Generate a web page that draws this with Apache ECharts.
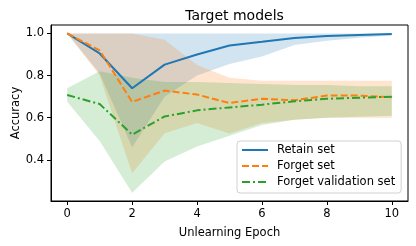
<!DOCTYPE html>
<html><head><meta charset="utf-8">
<script src="https://cdn.jsdelivr.net/npm/echarts@6/dist/echarts.min.js"></script>
<style>html,body{margin:0;padding:0;background:#fff}#c{width:416px;height:246px}</style>
</head><body><div id="c"></div>
<script>
const epochs = [0,1,2,3,4,5,6,7,8,9,10];
const retainMean  = [1.0,0.905,0.74,0.852,0.90,0.943,0.96,0.978,0.988,0.993,0.997];
const retainUpper = [1.0,1.0,1.0,1.0,1.0,1.0,1.0,1.0,1.0,1.0,1.0];
const retainLower = [1.0,0.81,0.46,0.70,0.80,0.855,0.89,0.945,0.965,0.98,0.99];
const forgetMean  = [1.0,0.92,0.675,0.729,0.71,0.67,0.69,0.683,0.705,0.705,0.697];
const forgetUpper = [1.0,1.0,1.0,0.97,0.85,0.79,0.775,0.775,0.775,0.775,0.775];
const forgetLower = [1.0,0.80,0.337,0.527,0.575,0.525,0.575,0.59,0.60,0.60,0.60];
const valMean  = [0.708,0.665,0.52,0.606,0.635,0.649,0.662,0.678,0.69,0.695,0.70];
const valUpper = [0.74,0.82,0.79,0.77,0.77,0.765,0.76,0.755,0.755,0.75,0.75];
const valLower = [0.676,0.49,0.244,0.392,0.463,0.515,0.565,0.59,0.60,0.605,0.61];
const xTicks = [0,2,4,6,8,10];
const yTicks = [0.4,0.6,0.8,1.0];
const names = ['Retain set','Forget set','Forget validation set'];
const colors = ['#1f77b4','#ff7f0e','#2ca02c'];

const pts = arr => epochs.map((e,i)=>[e,arr[i]]);

function band(lower, upper, color){
  return {
    type:'custom', silent:true, z:1,
    data:[[epochs[0], lower[0]]],
    renderItem:(params, api)=>{
      const up = epochs.map((e,i)=>api.coord([e,upper[i]]));
      const lo = epochs.map((e,i)=>api.coord([e,lower[i]])).reverse();
      return {type:'polygon', shape:{points:up.concat(lo)},
              style:{fill:color, opacity:0.2, stroke:null}};
    }
  };
}
const font = 'DejaVu Sans';
const fs = 11.5;
const chart = echarts.init(document.getElementById('c'), null, {renderer:'canvas'});
chart.setOption({
  animation:false,
  backgroundColor:'#fff',
  title:{text:'Target models', left:229.5, textAlign:'center', top:4,
    textStyle:{fontFamily:font,fontSize:14,fontWeight:'normal',color:'#000'}},
  grid:{left:51,right:8,top:25,bottom:45,outerBoundsMode:'none',containLabel:false,
    show:true,borderColor:'#000',borderWidth:1,backgroundColor:'transparent'},
  legend:{data:names, orient:'vertical', left:237, top:141, itemWidth:26, itemHeight:10, itemGap:4,
    padding:[3,6,5,4], borderColor:'#d0d0d0', borderWidth:1, borderRadius:3,
    backgroundColor:'rgba(255,255,255,0.8)',
    itemStyle:{opacity:0},
    textStyle:{fontFamily:font,fontSize:fs,color:'#000',padding:[0,0,0,4]}},
  xAxis:{type:'value', min:-0.5, max:10.5, name:'Unlearning Epoch', nameLocation:'middle', nameGap:26,
    nameMoveOverlap:false,
    nameTextStyle:{fontFamily:font,fontSize:fs,color:'#000'},
    splitLine:{show:false},
    axisLine:{show:true,onZero:false,lineStyle:{color:'#000',width:1}},
    axisTick:{show:true,length:4,lineStyle:{color:'#000'},customValues:xTicks},
    axisLabel:{fontFamily:font,fontSize:fs,color:'#000',margin:7,customValues:xTicks}},
  yAxis:{type:'value', min:0.205, max:1.04, name:'Accuracy', nameLocation:'middle', nameGap:29,
    nameMoveOverlap:false,
    nameTextStyle:{fontFamily:font,fontSize:fs,color:'#000'},
    splitLine:{show:false},
    axisLine:{show:true,onZero:false,lineStyle:{color:'#000',width:1}},
    axisTick:{show:true,length:4,lineStyle:{color:'#000'},customValues:yTicks},
    axisLabel:{fontFamily:font,fontSize:fs,color:'#000',margin:7,customValues:yTicks,
      formatter:v=>v.toFixed(1)}},
  series:[
    band(retainLower, retainUpper, colors[0]),
    band(forgetLower, forgetUpper, colors[1]),
    band(valLower, valUpper, colors[2]),
    {type:'line', name:names[0], data:pts(retainMean), symbol:'none', z:5,
      lineStyle:{color:colors[0],width:2,type:'solid'}, itemStyle:{color:colors[0]}},
    {type:'line', name:names[1], data:pts(forgetMean), symbol:'none', z:5,
      lineStyle:{color:colors[1],width:2,type:[7,3]}, itemStyle:{color:colors[1]}},
    {type:'line', name:names[2], data:pts(valMean), symbol:'none', z:5,
      lineStyle:{color:colors[2],width:2,type:[8,3,2,3]}, itemStyle:{color:colors[2]}}
  ]
});
</script></body></html>
